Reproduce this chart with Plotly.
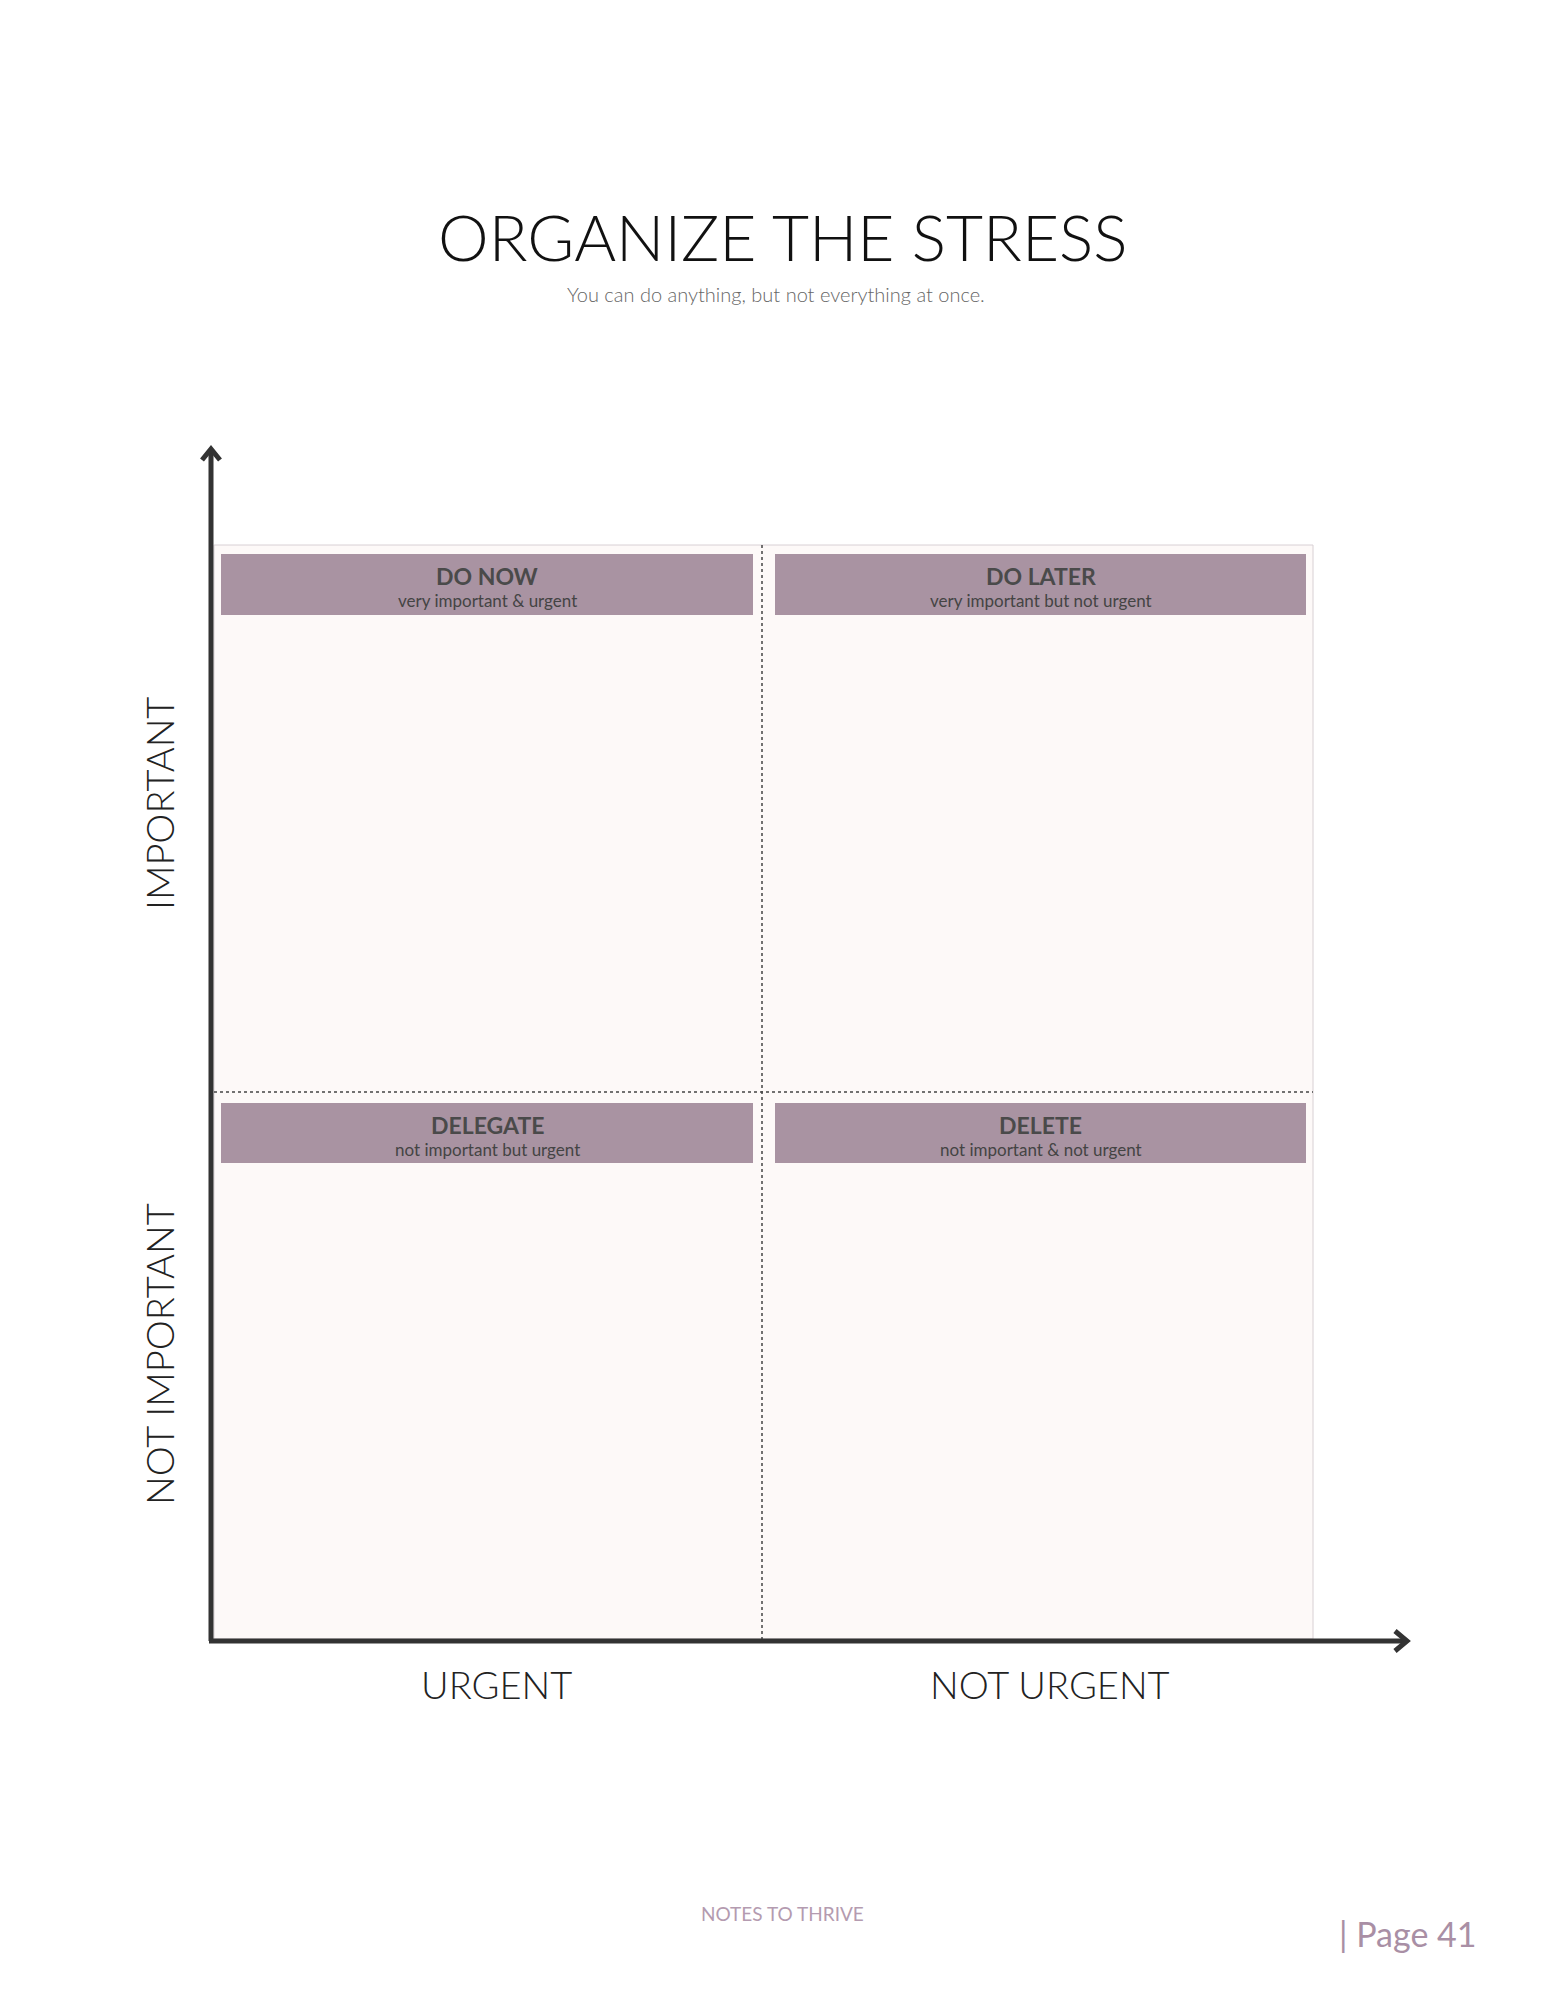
import plotly.graph_objects as go

W, H = 1546, 2000
quad_titles = ["DO NOW", "DO LATER", "DELEGATE", "DELETE"]
quad_subs = ["very important & urgent", "very important but not urgent",
             "not important but urgent", "not important & not urgent"]
x_labels = ["URGENT", "NOT URGENT"]
y_labels = ["IMPORTANT", "NOT IMPORTANT"]

# layout geometry (pixel space)
X0, XM, X1 = 206, 754, 1305
Y0, YM, Y1 = 537, 1084, 1631
bars_x = [(213, 745), (767, 1298), (213, 745), (767, 1298)]
bars_y = [(546, 607), (546, 607), (1095, 1155), (1095, 1155)]
AX, AY, AT, AR = 203, 1633, 441, 1399

fig = go.Figure()
shapes = []
shapes.append(dict(type="rect", x0=X0, x1=X1, y0=Y0, y1=Y1, fillcolor="#fdf9f8",
                   line=dict(color="#d8d0d4", width=1), layer="below"))
for (a, b), (c, d) in zip(bars_x, bars_y):
    shapes.append(dict(type="rect", x0=a, x1=b, y0=c, y1=d, fillcolor="#a993a2", line_width=0))
shapes.append(dict(type="line", x0=XM, x1=XM, y0=Y0, y1=Y1, line=dict(color="#444", width=1.5, dash="dot")))
shapes.append(dict(type="line", x0=X0, x1=X1, y0=YM, y1=YM, line=dict(color="#444", width=1.5, dash="dot")))
shapes.append(dict(type="line", x0=AX, x1=AX, y0=AY, y1=AT + 2, line=dict(color="#333", width=5)))
shapes.append(dict(type="line", x0=AX - 2, x1=AR - 2, y0=AY, y1=AY, line=dict(color="#333", width=5)))
shapes.append(dict(type="path", path=f"M {AX-9} {AT+11} L {AX} {AT} L {AX+9} {AT+11}", line=dict(color="#333", width=5)))
shapes.append(dict(type="path", path=f"M {AR-12} {AY-10} L {AR} {AY} L {AR-12} {AY+10}", line=dict(color="#333", width=5)))

ann = []
ann.append(dict(x=775, y=228, text="ORGANIZE THE STRESS", font=dict(family="Lato", size=64, weight=300, color="#111")))
ann.append(dict(x=768, y=286, text="You can do anything, but not everything at once.",
                font=dict(family="Lato", size=20, weight=300, color="#666")))
for i, (t, s) in enumerate(zip(quad_titles, quad_subs)):
    cx = sum(bars_x[i]) / 2
    ann.append(dict(x=cx, y=bars_y[i][0] + 22, text="<b>" + t + "</b>", font=dict(family="Lato", size=23, color="#4a4a4a")))
    ann.append(dict(x=cx, y=bars_y[i][0] + 46, text=s, font=dict(family="Lato", size=17, color="#444")))
for lab, xx in zip(x_labels, [488, 1042]):
    ann.append(dict(x=xx, y=1676, text=lab, font=dict(family="Lato", size=38, weight=300, color="#222")))
for lab, yy in zip(y_labels, [796, 1346]):
    ann.append(dict(x=151, y=yy, text=lab, textangle=-90, font=dict(family="Lato", size=38, weight=300, color="#222")))
ann.append(dict(x=774, y=1905, text="NOTES TO THRIVE", font=dict(family="Lato", size=19, color="#b49bb0")))
ann.append(dict(x=1400, y=1925, text="| Page 41", font=dict(family="Lato", size=34, color="#a98fa5")))
for a in ann:
    a.update(xref="x", yref="y", showarrow=False)

fig.update_layout(width=W, height=H, margin=dict(l=0, r=0, t=0, b=0),
                  paper_bgcolor="white", plot_bgcolor="white",
                  shapes=shapes, annotations=ann, showlegend=False,
                  xaxis=dict(range=[0, W], visible=False),
                  yaxis=dict(range=[H, 0], visible=False))
fig.write_html("out.html")
